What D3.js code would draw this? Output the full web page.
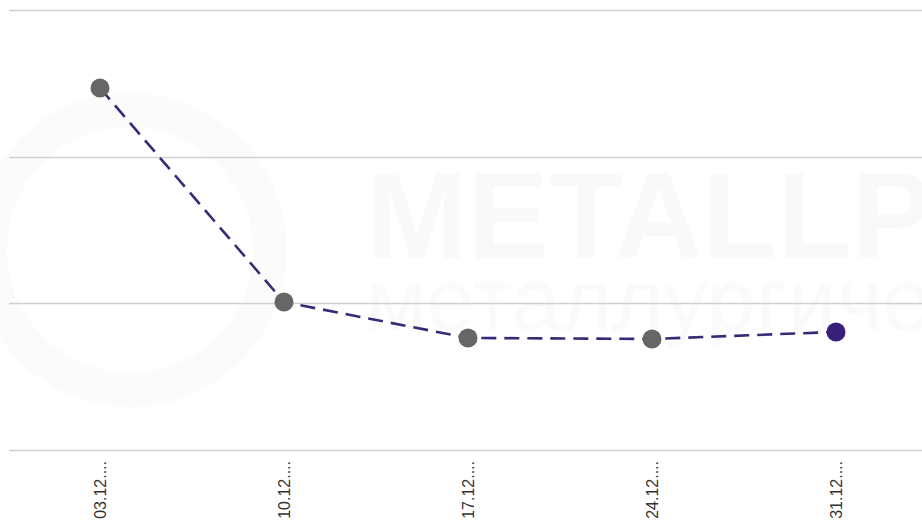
<!DOCTYPE html>
<html lang="ru">
<head>
<meta charset="utf-8">
<style>
  html, body { margin: 0; padding: 0; background: #fff; }
  svg { display: block; font-family: "Liberation Sans", Arial, sans-serif; }
  .grid line { stroke: #d0d0d0; stroke-width: 1.3px; }
  .xlab { font-size: 16px; fill: #333; }
</style>
</head>
<body>
<svg width="922" height="526"></svg>
<script src="https://cdn.jsdelivr.net/npm/d3@7"></script>
<script>
var dates = ["03.12.2021", "10.12.2021", "17.12.2021", "24.12.2021", "31.12.2021"];
var prices = [52340, 45045, 43820, 43785, 44025];
var gridTicks = [40000, 45000, 50000, 55000];

var svg = d3.select("svg"),
    width = +svg.attr("width"),
    height = +svg.attr("height");

var x = d3.scaleBand().domain(dates).range([8, 928]).padding(0);
var y = d3.scaleLinear().domain([40000, 55000]).range([450, 10]);

// faint watermark behind the chart
var wm = svg.append("g").attr("class", "watermark");
wm.append("circle")
    .attr("cx", 130).attr("cy", 250).attr("r", 140)
    .attr("fill", "none").attr("stroke", "#fbfbfb").attr("stroke-width", 34);
wm.append("text")
    .attr("x", 366).attr("y", 258)
    .attr("font-size", 122).attr("font-weight", "bold")
    .attr("fill", "#f9f9f9")
    .text("METALLPORT");
wm.append("text")
    .attr("x", 366).attr("y", 330)
    .attr("font-size", 88)
    .attr("fill", "#fafafa")
    .text("металлургический");

// title, mostly above the visible area
svg.append("text")
    .attr("x", 640).attr("y", -3)
    .attr("text-anchor", "middle")
    .attr("font-size", 16)
    .attr("fill", "#333")
    .text("Динамика цен на горячекатаный прокат (руб/т)");

// grid
svg.append("g").attr("class", "grid")
    .selectAll("line")
    .data(gridTicks)
    .enter().append("line")
    .attr("x1", 9).attr("x2", width)
    .attr("y1", function (d) { return Math.round(y(d)) + 0.5; })
    .attr("y2", function (d) { return Math.round(y(d)) + 0.5; });

// x labels
svg.append("g")
    .selectAll("text")
    .data(dates)
    .enter().append("text")
    .attr("class", "xlab")
    .attr("text-anchor", "end")
    .attr("transform", function (d) {
        return "translate(" + (x(d) + x.bandwidth() / 2 + 6) + ",461) rotate(-90)";
    })
    .text(function (d) { return d.slice(0, 5) + "...."; });

// line
var line = d3.line()
    .x(function (d, i) { return x(dates[i]) + x.bandwidth() / 2; })
    .y(function (d) { return y(d); });

svg.append("path")
    .datum(prices)
    .attr("d", line)
    .attr("fill", "none")
    .attr("stroke", "#3b2877")
    .attr("stroke-width", 2.6)
    .attr("stroke-dasharray", "15,8");

svg.append("g")
    .selectAll("circle")
    .data(prices)
    .enter().append("circle")
    .attr("cx", function (d, i) { return x(dates[i]) + x.bandwidth() / 2; })
    .attr("cy", function (d) { return y(d); })
    .attr("r", 9.5)
    .attr("fill", function (d, i) { return i === prices.length - 1 ? "#36207a" : "#666"; });
</script>
</body>
</html>
